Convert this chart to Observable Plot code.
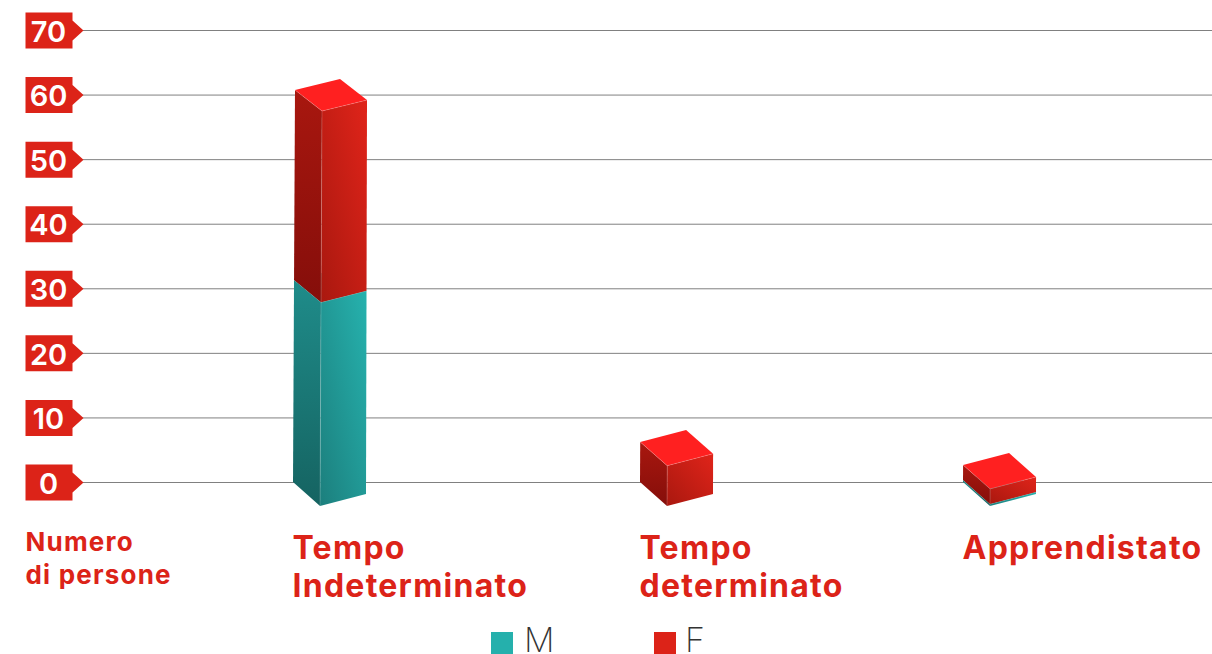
<!DOCTYPE html>
<html lang="it">
<head>
<meta charset="utf-8">
<script src="https://cdn.jsdelivr.net/npm/d3@7"></script>
<script src="https://cdn.jsdelivr.net/npm/@observablehq/plot@0.6"></script>
<style>
html,body{margin:0;padding:0;background:#fff;overflow:hidden;width:1212px;height:654px}
body{font-family:Inter,"Noto Sans",sans-serif}
#legend{position:relative;height:44px;overflow:hidden}
.sw{position:absolute;top:22px;width:22px;height:22px}
.lt{position:absolute;top:18px;height:24px;font-size:34px;line-height:24px;font-weight:200;color:#333}
svg{display:block}
.cat text{letter-spacing:1.25px}
.axl text{letter-spacing:1.2px}
</style>
</head>
<body>
<div id="chart"></div>
<div id="legend">
  <div class="sw" style="left:491px;background:#25b0ac"></div><div class="lt" style="left:524px">M</div>
  <div class="sw" style="left:654px;background:#dc2318"></div><div class="lt" style="left:685px">F</div>
</div>
<script>
const categories = ["Tempo Indeterminato", "Tempo determinato", "Apprendistato"];
const categoryLabels = ["Tempo\nIndeterminato", "Tempo\ndeterminato", "Apprendistato"];
const valuesM = [31.3, 0, 0.3];
const valuesF = [29.4, 6.2, 2.33];
const yTicks = [0, 10, 20, 30, 40, 50, 60, 70];
const series = ["M", "F"];
const seriesColors = ["#25b0ac", "#dc2318"];
const axisLabel = "Numero\ndi persone";

const rows = categories.flatMap((c, i) => [
  {category: c, sex: "M", y1: 0, y2: valuesM[i]},
  {category: c, sex: "F", y1: valuesM[i], y2: valuesM[i] + valuesF[i]}
]);

// Layout-only: the middle column sits a little right of an even spacing.
const nudge = [0, 12, 0];

const palette = {
  M: {left: ["#1f8c8a", "#156361"], front: ["#26b2ae", "#1c7f7d"]},
  F: {left: ["#a8170f", "#850e0a"], front: ["#e0241a", "#a9180f"], top: "#ff2020"}
};

function renderBoxes(index, scales, values) {
  const g = d3.create("svg:g");
  const defs = g.append("defs");
  const y0 = scales.y(0);
  const poly = (pts, fill) => g.append("polygon")
    .attr("points", pts.map(p => p.join(",")).join(" ")).attr("fill", fill);
  const edge = (a, b) => g.append("line")
    .attr("x1", a[0]).attr("y1", a[1]).attr("x2", b[0]).attr("y2", b[1])
    .attr("stroke", "#fff").attr("stroke-opacity", 0.18).attr("stroke-width", 1);
  const grad = (id, c, x1, y1, x2, y2) => {
    const lg = defs.append("linearGradient").attr("id", id)
      .attr("x1", x1).attr("y1", y1).attr("x2", x2).attr("y2", y2);
    lg.append("stop").attr("offset", 0).attr("stop-color", c[0]);
    lg.append("stop").attr("offset", 1).attr("stop-color", c[1]);
    return `url(#${id})`;
  };
  const corners = (x, py) => {
    const h = y0 - py;
    const l = [x + h * 2 / 391, py];
    const f = [l[0] + 27, py + 24 - h * 3 / 391];
    const r = [f[0] + 46 - h / 391, f[1] - 12 + h / 391];
    const b = [l[0] + r[0] - f[0], l[1] + r[1] - f[1]];
    return {l, f, r, b};
  };
  for (const i of index) {
    if (values.y1[i] === values.y2[i]) continue;
    const row = rows[i];
    const p = palette[row.sex];
    const x = values.x[i] + nudge[categories.indexOf(row.category)];
    const lo = corners(x, values.y1[i]);
    const hi = corners(x, values.y2[i]);
    poly([hi.l, hi.f, lo.f, lo.l], grad(`l${i}`, p.left, 0, 0, 0, 1));
    poly([hi.f, hi.r, lo.r, lo.f], grad(`f${i}`, p.front, 1, 0, 0, 1));
    poly([hi.l, hi.b, hi.r, hi.f], p.top ?? p.front[0]);
    edge(hi.l, hi.f); edge(hi.f, hi.r); edge(hi.f, lo.f);
  }
  return g.node();
}

// Tag-shaped tick badge, drawn around the dot's anchor.
const badge = {
  draw(c) {
    c.moveTo(-57, -18); c.lineTo(-10, -18); c.lineTo(-10, -10); c.lineTo(1, 0);
    c.lineTo(-10, 10); c.lineTo(-10, 18); c.lineTo(-57, 18); c.closePath();
  }
};

const chart = Plot.plot({
  width: 1212,
  height: 610,
  marginLeft: 82,
  marginRight: 0,
  marginTop: 30,
  marginBottom: 128,
  style: {background: "transparent", overflow: "visible"},
  x: {type: "point", domain: categories, range: [293, 963], padding: 0, axis: null},
  y: {domain: [0, 70], axis: null},
  color: {domain: series, range: seriesColors},
  marks: [
    Plot.ruleY(yTicks, {y: d => d, stroke: "#808080", strokeWidth: 1}),
    Plot.dot(yTicks, {y: d => d, frameAnchor: "left", symbol: badge, fill: "#dc2318", stroke: null}),
    Plot.text(yTicks, {y: d => d, frameAnchor: "left", dx: -34, dy: 2, text: d => String(d), textAnchor: "middle",
      fill: "#fff", fontSize: 29, fontWeight: 600, fontFamily: "Inter"}),
    Plot.ruleX(rows, {x: "category", y1: "y1", y2: "y2", stroke: "sex", render: renderBoxes}),
    ...categories.map((c, i) => Plot.text([c], {
      x: d => d, y: () => 0, dx: nudge[i] - 1, dy: 49, text: () => categoryLabels[i],
      textAnchor: "start", lineAnchor: "top", lineHeight: 1.19,
      fill: "#dc2318", fontSize: 32, fontWeight: 700, fontFamily: "Inter", className: "cat"
    })),
    Plot.text([axisLabel], {
      y: () => 0, frameAnchor: "left", dx: -57, dy: 45, text: d => d,
      textAnchor: "start", lineAnchor: "top", lineHeight: 1.27,
      fill: "#dc2318", fontSize: 26, fontWeight: 700, fontFamily: "Inter", className: "axl"
    })
  ]
});
document.getElementById("chart").append(chart);
</script>
</body>
</html>
